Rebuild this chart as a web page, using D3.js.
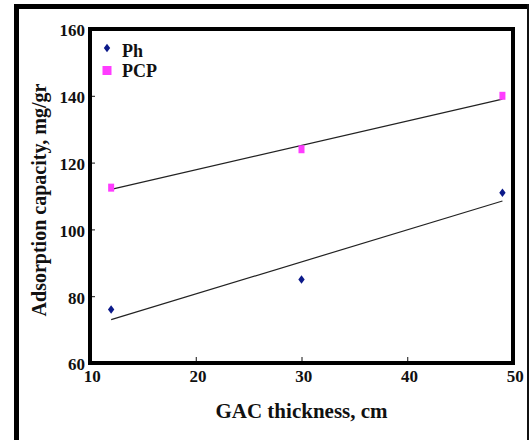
<!DOCTYPE html>
<meta charset="utf-8">

<style type="text/css">
    body { margin: 0; background: #fff; }
    text { font-family: "Liberation Serif", "Times New Roman", serif; font-weight: bold; fill: #111; }
    .tick line { stroke: #111; stroke-width: 1; }
    .trend { fill: none; stroke: #222; stroke-width: 1.2; }
    .ph { fill: #0c1a8a; }
    .pcp { fill: #ff3cff; }
</style>
<body>
</body>

<script src="https://d3js.org/d3.v7.min.js"></script>
<script>
// values
var thickness = [12, 30, 49];            // GAC thickness, cm
var phValues = [76, 85, 111];            // Ph, mg/gr
var pcpValues = [112.5, 124, 140];       // PCP, mg/gr

// fitted lines as drawn in the figure (start / end)
var trendX = [12, 49];
var phTrend = [73, 108.5];
var pcpTrend = [112, 139];

var xTicks = [10, 20, 30, 40, 50];
var yTicks = [60, 80, 100, 120, 140, 160];

var seriesNames = ["Ph", "PCP"];

var width = 530, height = 440;

var svg = d3.select("body").append("svg")
    .attr("width", width)
    .attr("height", height);

// outer frame (bottom edge runs off the picture)
svg.append("line").attr("x1", 14).attr("x2", 529).attr("y1", 6.5).attr("y2", 6.5)
    .attr("stroke", "#000").attr("stroke-width", 5);
svg.append("line").attr("x1", 16.5).attr("x2", 16.5).attr("y1", 4).attr("y2", 450)
    .attr("stroke", "#000").attr("stroke-width", 5);
svg.append("line").attr("x1", 528).attr("x2", 528).attr("y1", 4).attr("y2", 450)
    .attr("stroke", "#111").attr("stroke-width", 2);

var plot = {left: 90, right: 513, top: 29, bottom: 363};

var xScale = d3.scaleLinear()
    .domain([10, 50])
    .range([plot.left, plot.right]);

var yScale = d3.scaleLinear()
    .domain([60, 160])
    .range([plot.bottom, plot.top]);

// x axis
var xAxis = svg.append("g")
    .attr("transform", "translate(0," + plot.bottom + ")")
    .call(d3.axisBottom(xScale).tickValues(xTicks).tickSize(-6).tickPadding(7));
xAxis.select(".domain").remove();
xAxis.selectAll("text").attr("font-size", 17).attr("dx", "0.1em");

// y axis
var yAxis = svg.append("g")
    .attr("transform", "translate(" + plot.left + ",0)")
    .call(d3.axisLeft(yScale).tickValues(yTicks).tickSize(-5).tickPadding(5));
yAxis.select(".domain").remove();
yAxis.selectAll("text").attr("font-size", 17).attr("dy", "0.4em");

// plot box
svg.append("rect")
    .attr("x", plot.left)
    .attr("y", plot.top)
    .attr("width", plot.right - plot.left)
    .attr("height", plot.bottom - plot.top)
    .attr("fill", "none")
    .attr("stroke", "#000")
    .attr("stroke-width", 4);

// trend lines
var line = d3.line()
    .x(function (d) { return xScale(d[0]); })
    .y(function (d) { return yScale(d[1]); });

[phTrend, pcpTrend].forEach(function (t) {
    svg.append("path")
        .datum(d3.zip(trendX, t))
        .attr("class", "trend")
        .attr("d", line);
});

// a wider diamond than d3.symbolDiamond, like the Excel marker
var fatDiamond = {
    draw: function (context, size) {
        var h = Math.sqrt(size) / 2, w = h * 0.75;
        context.moveTo(0, -h);
        context.lineTo(w, 0);
        context.lineTo(0, h);
        context.lineTo(-w, 0);
        context.closePath();
    }
};

// Ph points (diamonds)
svg.selectAll(".ph-pt")
    .data(d3.zip(thickness, phValues))
    .enter().append("path")
    .attr("class", "ph")
    .attr("d", d3.symbol().type(fatDiamond).size(72))
    .attr("transform", function (d) {
        return "translate(" + xScale(d[0]) + "," + yScale(d[1]) + ")";
    });

// PCP points (squares)
svg.selectAll(".pcp-pt")
    .data(d3.zip(thickness, pcpValues))
    .enter().append("rect")
    .attr("class", "pcp")
    .attr("x", function (d) { return xScale(d[0]) - 3; })
    .attr("y", function (d) { return yScale(d[1]) - 4; })
    .attr("width", 6)
    .attr("height", 8);

// legend
var legend = svg.append("g").attr("transform", "translate(107,0)");
legend.append("path")
    .attr("class", "ph")
    .attr("d", d3.symbol().type(fatDiamond).size(72))
    .attr("transform", "translate(0,48)");
legend.append("rect")
    .attr("class", "pcp")
    .attr("x", -4.5).attr("y", 66)
    .attr("width", 9).attr("height", 9);
legend.selectAll(".lg")
    .data(seriesNames)
    .enter().append("text")
    .attr("x", 15)
    .attr("y", function (d, i) { return 57 + i * 20; })
    .attr("font-size", 18)
    .text(function (d) { return d; });

// axis titles
svg.append("text")
    .attr("x", (plot.left + plot.right) / 2)
    .attr("y", 418)
    .attr("text-anchor", "middle")
    .attr("font-size", 21)
    .text("GAC thickness, cm");

svg.append("text")
    .attr("transform", "translate(46," + 200 + ") rotate(-90)")
    .attr("text-anchor", "middle")
    .attr("font-size", 20)
    .text("Adsorption capacity, mg/gr");
</script>
